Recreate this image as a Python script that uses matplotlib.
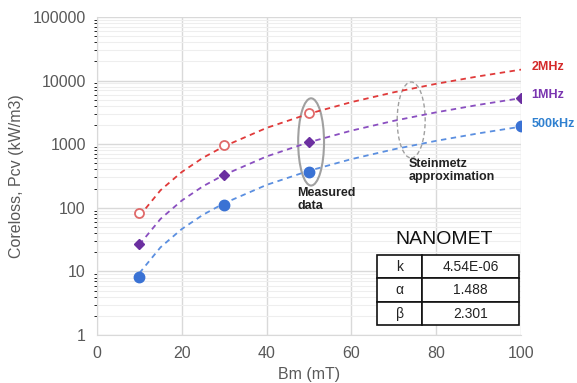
import matplotlib.pyplot as plt
from matplotlib.patches import Ellipse

plt.rcParams['font.family'] = ['Liberation Sans', 'DejaVu Sans']

# Steinmetz curves (Bm in mT, Pcv in kW/m3)
curve_bm = [10, 15, 20, 25, 30, 40, 50, 60, 70, 80, 90, 100]
curve_2mhz = [74, 189, 365, 611, 927, 1800, 3010, 4575, 6530, 8875, 11640, 14830]
curve_1mhz = [26.4, 67, 130, 218, 330, 641, 1072, 1631, 2327, 3164, 4149, 5287]
curve_500khz = [9.4, 24, 46.4, 77.7, 118, 229, 382, 582, 830, 1128, 1479, 1885]

# measured points
meas_bm = [10, 30, 50]
meas_2mhz = [83, 970, 3100]
meas_bm_ext = [10, 30, 50, 100]
meas_1mhz = [27, 330, 1080, 5300]
meas_500khz = [8.3, 112, 365, 1900]

freq_labels = ["2MHz", "1MHz", "500kHz"]
label_pos = [16500, 6000, 2050]

table_rows = [["k", "4.54E-06"], ["\u03b1", "1.488"], ["\u03b2", "2.301"]]

red = "#e03a3a"
purple = "#8a4fc0"
blue = "#5b8fe0"
grey = "#595959"

fig = plt.figure(figsize=(5.77, 3.83), dpi=100)
ax = fig.add_axes([0.168, 0.125, 0.735, 0.831])

ax.plot(curve_bm, curve_2mhz, "--", color=red, lw=1.3, dashes=(3, 2.5))
ax.plot(curve_bm, curve_1mhz, "--", color=purple, lw=1.3, dashes=(3, 2.5))
ax.plot(curve_bm, curve_500khz, "--", color=blue, lw=1.3, dashes=(3, 2.5))

ax.plot(meas_bm, meas_2mhz, "o", ms=6.5, mfc="white", mec="#e06a6a", mew=1.3)
ax.plot(meas_bm_ext, meas_1mhz, "D", ms=5, color="#6b2fa0")
ax.plot(meas_bm_ext, meas_500khz, "o", ms=7.5, color="#3a72d4")

ax.set_yscale("log")
ax.set_xlim(0, 100)
ax.set_ylim(1, 100000)
ax.set_xticks([0, 20, 40, 60, 80, 100])
ax.set_yticks([1, 10, 100, 1000, 10000, 100000])
ax.set_yticklabels(["1", "10", "100", "1000", "10000", "100000"])
ax.tick_params(labelsize=11.5, colors=grey, length=0, pad=8)
ax.grid(True, which="major", color="#d9d9d9", lw=1)
ax.grid(True, which="minor", axis="y", color="#eeeeee", lw=0.8)
ax.set_axisbelow(True)
for s in ax.spines.values():
    s.set_visible(False)
ax.spines["left"].set_visible(True)
ax.spines["bottom"].set_visible(True)
ax.spines["left"].set_color("#d9d9d9")
ax.spines["bottom"].set_color("#d9d9d9")

ax.set_xlabel("Bm (mT)", fontsize=11.5, color=grey, labelpad=4)
ax.set_ylabel("Coreloss, Pcv (kW/m3)", fontsize=11.5, color=grey, labelpad=6)

for lab, y, c in zip(freq_labels, label_pos, ["#d42a2a", "#7a35b0", "#2f80d0"]):
    ax.text(102.5, y, lab, color=c, fontsize=9, fontweight="bold",
            va="center", ha="left", clip_on=False)

ax.add_patch(Ellipse((0.505, 0.607), 0.061, 0.274, transform=ax.transAxes,
                     fill=False, ec="#a0a0a0", lw=1.5))
ax.add_patch(Ellipse((0.741, 0.676), 0.066, 0.239, transform=ax.transAxes,
                     fill=False, ec="#a0a0a0", lw=1.0, ls=(0, (3, 2))))

ax.text(0.473, 0.465, "Measured\ndata", transform=ax.transAxes, fontsize=9,
        fontweight="bold", color="#222222", va="top", ha="left", linespacing=1.1)
ax.text(0.735, 0.555, "Steinmetz\napproximation", transform=ax.transAxes,
        fontsize=9, fontweight="bold", color="#222222", va="top", ha="left",
        linespacing=1.1)

ax.text(0.818, 0.30, "NANOMET", transform=ax.transAxes, fontsize=14,
        color="#111111", ha="center", va="center")

tbl = ax.table(cellText=table_rows, cellLoc="center",
               colWidths=[0.32, 0.68], bbox=[0.660, 0.031, 0.335, 0.221])
tbl.set_zorder(5)
tbl.auto_set_font_size(False)
for cell in tbl.get_celld().values():
    cell.set_edgecolor("#111111")
    cell.set_linewidth(1.2)
    cell.set_facecolor("white")
    cell.get_text().set_fontsize(10)
    cell.get_text().set_color("#222222")

fig.savefig("out.png", dpi=100)
